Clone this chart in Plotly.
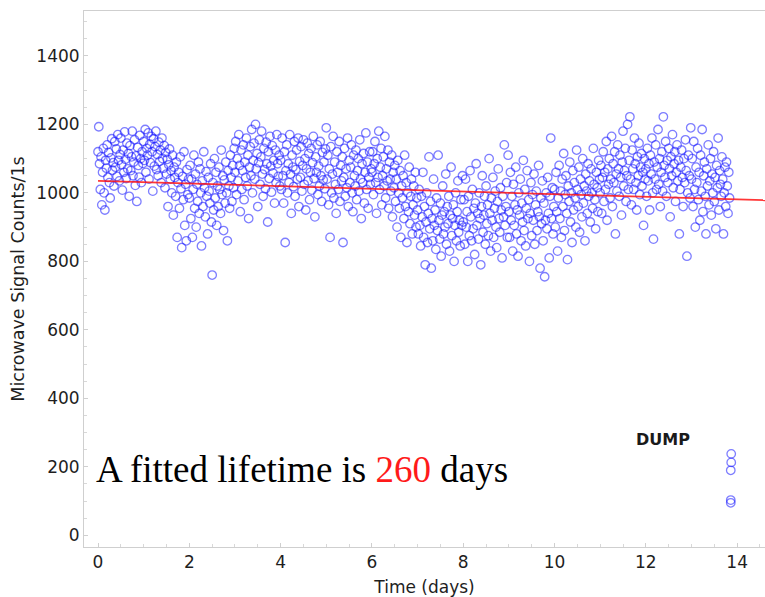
import numpy as np
import plotly.graph_objects as go

# Microwave signal counts per 1 s, grouped by day of the run (60 samples per day)
day0 = [1120,1193,1085,1010,1105,965,1060,1130,1000,950,1095,1072,1140,1045,1118,1030,985,1102,1158,1066,
        1088,1020,1150,1075,1128,1048,1170,1095,1035,1112,1160,1082,1008,1125,1060,1178,1098,1042,1145,1070,
        1115,990,1138,1065,1105,1180,1050,1090,1155,1022,1108,975,1133,1080,1046,1168,1100,1030,1120,1086]
day1 = [1150,1095,1185,1060,1130,1110,1175,1040,1142,1088,1165,1120,1005,1158,1078,1135,1180,1068,1112,1050,
        1148,1092,1125,1030,1160,1100,1072,1138,1015,1118,1055,1098,960,1082,1128,1040,1065,1000,1110,935,
        1075,1045,990,1090,870,1030,1060,955,1105,1012,840,1048,980,1120,905,1025,860,1068,995,1040]
day2 = [985,1080,925,1040,870,1010,1110,955,1055,900,1025,975,1090,940,1070,1000,845,1035,960,1120,
        1015,930,1062,990,880,1045,1005,970,1085,915,760,1030,950,1100,985,1060,905,1020,960,1075,
        1010,940,1125,995,1050,890,1038,970,1090,1000,860,1065,1020,955,1110,1045,975,1080,1015,1130]
day3 = [1060,1150,995,1100,1035,1170,1080,945,1125,1010,1065,1140,980,1090,1045,1160,1020,1110,925,1075,
        1135,1050,1185,1000,1095,1145,1040,1200,1070,1115,960,1088,1155,1025,1105,1180,1055,990,1130,1068,
        1012,1148,1085,915,1120,1042,1165,1078,1002,1138,1058,1095,970,1125,1030,1170,1085,1048,1110,1020]
day4 = [1095,1010,1160,1050,970,1120,855,1065,1140,1000,1085,1030,1170,1055,940,1110,1075,1018,1150,990,
        1068,1125,1040,1160,960,1092,1045,1135,1005,1080,1155,1025,1100,950,1070,1145,1035,1115,980,1060,
        1130,1008,1088,1165,1042,930,1105,1060,1140,995,1078,1020,1150,1050,975,1118,1038,1090,1012,1128]
day5 = [1190,1040,1110,965,1070,870,1135,1000,1055,1165,985,1090,1025,940,1120,1060,1010,1150,975,1080,
        1035,1105,855,1045,1130,990,1070,1015,1160,960,1095,1030,1075,1140,1000,945,1110,1050,1020,1125,
        980,1065,1100,1005,1155,1040,925,1085,1030,1115,970,1060,1175,1010,1090,955,1045,1120,1025,1070]
day6 = [1060,1120,995,1085,1150,1030,940,1100,1045,1180,1010,1075,1130,965,1050,1105,1020,1165,985,1070,
        1035,1125,955,1090,1040,1005,1110,930,1060,1015,1080,975,1040,900,1095,1000,955,1065,870,1020,
        985,1050,925,1110,960,1030,855,1000,945,1075,910,990,1040,880,965,1020,935,1060,900,985]
day7 = [950,880,1010,905,845,990,930,1060,870,960,790,915,1000,855,940,1105,895,975,780,925,
        860,1040,905,950,835,985,890,1110,920,865,970,815,935,1020,880,945,900,1055,850,960,
        910,990,830,935,1075,875,925,965,800,905,1000,860,945,1035,885,920,845,980,905,1050]
day8 = [915,980,850,1040,900,945,800,990,875,1065,930,860,1010,895,955,820,970,1085,905,940,
        865,1000,925,790,960,1050,885,935,990,850,1020,910,965,875,1100,940,830,985,920,1045,
        870,955,1005,900,840,975,1070,925,885,1015,950,810,990,930,1140,905,960,1030,870,1110]
day9 = [945,870,1060,920,990,830,1025,905,965,1075,880,950,815,1000,935,1040,860,970,915,1095,
        890,1010,845,955,1065,925,980,800,940,1030,875,995,920,1055,850,965,1005,890,945,1080,
        930,780,985,910,1035,860,970,755,920,1000,895,1045,940,810,990,1160,925,1015,880,960]
day10 = [1010,900,1060,945,830,985,1080,925,1005,870,1040,960,1115,890,995,1050,940,805,1020,975,
         1090,915,1000,855,1065,950,1030,985,900,1125,1010,960,1075,885,1040,995,930,1100,970,1020,
         860,1055,1005,940,1085,990,1035,915,1070,1000,955,1130,1025,980,895,1060,1015,945,1095,1040]
day11 = [1000,1080,940,1045,1120,975,1060,1010,1150,920,1070,1025,1100,985,1040,1165,960,1085,1030,1120,
         880,1055,1005,1140,1070,990,1110,1045,935,1090,1180,1020,1065,1130,975,1050,1200,1010,1095,1222,
         1040,965,1125,1070,1010,1160,1085,1030,950,1105,1050,1145,995,1075,1115,1020,1060,905,1100,1040]
day12 = [1070,990,1130,1035,1085,950,1110,1055,1160,1000,865,1090,1040,1140,1010,1075,1185,1025,1100,960,
         1060,1120,1005,1222,1080,1045,1150,990,1095,1030,1130,1070,930,1105,1050,1170,1015,1085,1120,975,
         1060,1140,1035,1095,880,1010,1075,1125,1045,960,1100,1030,1155,1065,815,1000,1110,1050,985,1190]
day13 = [1040,1100,960,1150,1010,900,1075,1030,1130,980,1060,920,1110,1005,1185,945,1050,1090,990,880,
         1070,1020,1140,965,1035,1100,935,1055,1000,1120,975,1045,895,1080,1015,1160,950,1065,1025,990,
         1105,1040,880,1000,1075,960,1090,1020,940,1060,985]

samples_per_day = 60

# Readings taken while the trap was dumped at the end of the run
dump_time = [13.87, 13.87, 13.86, 13.86, 13.86]
dump_counts = [238, 213, 190, 103, 95]

# Exponential decay fit
fit_amplitude = 1035
fit_lifetime = 260  # days

days = [day0, day1, day2, day3, day4, day5, day6, day7, day8, day9, day10, day11, day12, day13]
times, counts = [], []
for d, vals in enumerate(days):
    for i, v in enumerate(vals):
        times.append(d + i / samples_per_day)
        counts.append(v)

fit_t = np.linspace(0, 14.7, 100)
fit_y = fit_amplitude * np.exp(-fit_t / fit_lifetime)

marker_style = dict(symbol="circle-open", size=8.5, color="rgba(20,20,255,0.55)",
                    line=dict(width=1.3, color="rgba(20,20,255,0.55)"))

fig = go.Figure()
fig.add_trace(go.Scatter(x=times, y=counts, mode="markers", marker=marker_style,
                         showlegend=False, hoverinfo="skip"))
fig.add_trace(go.Scatter(x=dump_time, y=dump_counts, mode="markers", marker=marker_style,
                         showlegend=False, hoverinfo="skip"))
fig.add_trace(go.Scatter(x=fit_t, y=fit_y, mode="lines",
                         line=dict(color="rgba(255,20,20,0.85)", width=1.8),
                         showlegend=False, hoverinfo="skip"))

axis_common = dict(
    showgrid=False, zeroline=False, showline=True, linecolor="#cfcfcf", linewidth=1,
    ticks="inside", ticklen=4, tickcolor="#cfcfcf",
    tickfont=dict(family="DejaVu Sans", size=17, color="#1e1e1e"),
)

fig.update_layout(
    width=765, height=597,
    margin=dict(l=84, r=0, t=11, b=50),
    paper_bgcolor="white", plot_bgcolor="white",
    xaxis=dict(range=[-0.307, 14.61], tickvals=[0, 2, 4, 6, 8, 10, 12, 14],
               mirror=True,
               minor=dict(ticks="inside", dtick=0.5, ticklen=3, tickcolor="#d8d8d8"),
               title=dict(text="Time (days)", font=dict(family="DejaVu Sans", size=17, color="#1e1e1e"),
                          standoff=9),
               **axis_common),
    yaxis=dict(range=[-34, 1531], tickvals=[0, 200, 400, 600, 800, 1000, 1200, 1400],
               minor=dict(ticks="inside", dtick=50, ticklen=3, tickcolor="#d8d8d8"),
               title=dict(text="Microwave Signal Counts/1s",
                          font=dict(family="DejaVu Sans", size=17.5, color="#1e1e1e"), standoff=7),
               **axis_common),
    annotations=[
        dict(x=-0.09, y=192, xref="x", yref="y", xanchor="left", yanchor="middle",
             text="A fitted lifetime is <span style='color:#ff1a1a'>260</span> days",
             showarrow=False, font=dict(family="Liberation Serif", size=37, color="black")),
        dict(x=12.38, y=279, xref="x", yref="y", xanchor="center", yanchor="middle",
             text="<b>DUMP</b>", showarrow=False,
             font=dict(family="DejaVu Sans", size=16, color="#1a1a1a")),
    ],
)

fig.write_html("out.html")
